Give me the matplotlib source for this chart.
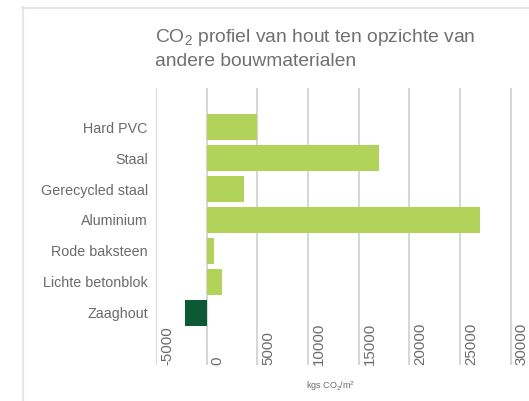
import matplotlib
matplotlib.use("Agg")
import matplotlib.pyplot as plt
from matplotlib.lines import Line2D
import matplotlib.transforms as mtransforms

categories = ["Hard PVC", "Staal", "Gerecycled staal", "Aluminium",
              "Rode baksteen", "Lichte betonblok", "Zaaghout"]
values = [5000, 17000, 3700, 27000, 750, 1500, -2100]
xticks = [-5000, 0, 5000, 10000, 15000, 20000, 25000, 30000]

plt.rcParams['font.family'] = ['Liberation Sans', 'DejaVu Sans']
plt.rcParams['mathtext.fontset'] = 'custom'
plt.rcParams['mathtext.rm'] = 'Liberation Sans'

W, H = 529, 401
fig = plt.figure(figsize=(W / 100, H / 100), dpi=100)

# page border (top and left)
fig.add_artist(Line2D([22 / W, 1], [1 - 7.5 / H, 1 - 7.5 / H], color="#e6e6e6", lw=1.5,
                      transform=fig.transFigure))
fig.add_artist(Line2D([23 / W, 23 / W], [0, 1 - 7 / H], color="#e6e6e6", lw=1.5,
                      transform=fig.transFigure))

left_px, right_px = 156.0, 156.0 + 359.7
top_px, bot_px = 88.0, 365.0
ax = fig.add_axes([left_px / W, 1 - bot_px / H, (right_px - left_px) / W, (bot_px - top_px) / H])

green = "#b2d35a"
dark = "#0b5a33"
txt = "#6a6a6a"
colors = [dark if v < 0 else green for v in values]
ypos = list(range(len(categories)))

for x in xticks:
    ax.axvline(x, color="#cccccc", lw=1.1, zorder=0)

ax.barh(ypos, values, height=0.83, color=colors, zorder=2)

ax.set_xlim(-5000, 30500)
ax.set_ylim(7.68, -1.26)
for s in ax.spines.values():
    s.set_visible(False)
ax.set_xticks([])
ax.set_yticks(ypos)
ax.set_yticklabels(categories, fontsize=10.3, color=txt)
ax.tick_params(axis="y", length=0, pad=6)

trans = mtransforms.blended_transform_factory(ax.transData, ax.transAxes)
offset = mtransforms.ScaledTranslation(4 / 100, 0, fig.dpi_scale_trans)
for x in xticks:
    ax.text(x, 0, str(x), rotation=90, ha="left", va="bottom", fontsize=10.8,
            color=txt, transform=trans + offset)

fig.text((left_px + right_px) / 2 / W - 5 / W, 1 - 386 / H,
         r"kgs CO$_\mathregular{2}$/m$^\mathregular{2}$",
         ha="center", va="center", fontsize=6.5, color=txt)

fig.text(155 / W, 1 - 27 / H,
         "CO$_\\mathregular{2}$ profiel van hout ten opzichte van\nandere bouwmaterialen",
         ha="left", va="top", fontsize=13.9, color="#707070", linespacing=1.35)

fig.savefig("out.png", dpi=100)
